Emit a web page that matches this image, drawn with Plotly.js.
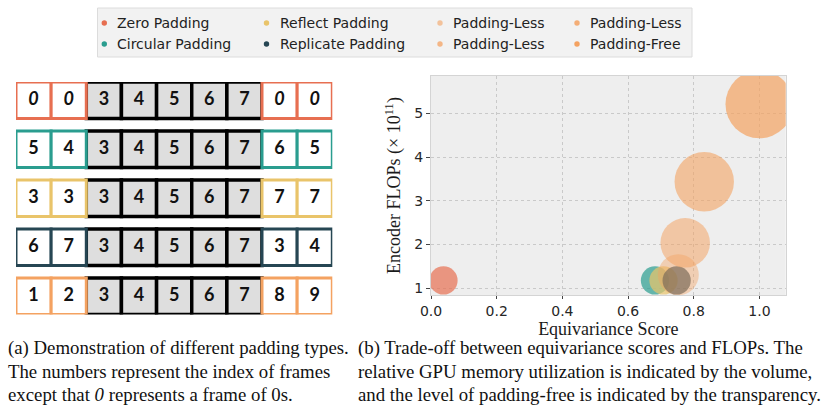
<!DOCTYPE html>
<html>
<head>
<meta charset="utf-8">
<script src="https://cdn.plot.ly/plotly-3.0.1.min.js"></script>
<style>html,body{margin:0;padding:0;background:#fff;}#chart{width:831px;height:412px;}</style>
</head>
<body>
<div id="chart"></div>
<script>
// ---------- data ----------
const methods = ['Zero Padding', 'Circular Padding', 'Reflect Padding', 'Replicate Padding',
                 'Padding-Less', 'Padding-Less', 'Padding-Less', 'Padding-Free'];
const equivarianceScore = [0.038, 0.682, 0.708, 0.748, 0.753, 0.774, 0.832, 1.0];
const encoderFlops = [1.18, 1.18, 1.18, 1.18, 1.31, 2.04, 3.437, 5.206];
const gpuMemory = [1, 1, 1, 1, 2.1, 3.06, 4.41, 5.76];
const methodColors = ['#E76F51', '#2A9D8F', '#E9C46A', '#264653', '#F4A261', '#F4A261', '#F4A261', '#F4A261'];
const methodOpacity = [1, 1, 1, 1, 0.6, 0.75, 0.85, 1];
const xTicks = [0, 0.2, 0.4, 0.6, 0.8, 1.0];
const yTicks = [1, 2, 3, 4, 5];

const framesZero = [0, 0, 3, 4, 5, 6, 7, 0, 0];
const framesCircular = [5, 4, 3, 4, 5, 6, 7, 6, 5];
const framesReflect = [3, 3, 3, 4, 5, 6, 7, 7, 7];
const framesReplicate = [6, 7, 3, 4, 5, 6, 7, 3, 4];
const framesFree = [1, 2, 3, 4, 5, 6, 7, 8, 9];
const diagramRows = [framesZero, framesCircular, framesReflect, framesReplicate, framesFree];
const rowColors = ['#E76F51', '#2A9D8F', '#E9C46A', '#264653', '#F4A261'];
const padCount = 2;

const captionA = ['(a) Demonstration of different padding types.',
                  'The numbers represent the index of frames',
                  'except that <i>0</i> represents a frame of 0s.'];
const captionB = ['(b) Trade-off between equivariance scores and FLOPs. The',
                  'relative GPU memory utilization is indicated by the volume,',
                  'and the level of padding-free is indicated by the transparency.'];

// ---------- helpers ----------
const W = 831, H = 412;
const px = x => x / W;
const py = y => 1 - y / H;
function rgba(hex, a) {
  const r = parseInt(hex.slice(1, 3), 16), g = parseInt(hex.slice(3, 5), 16), b = parseInt(hex.slice(5, 7), 16);
  return `rgba(${r},${g},${b},${a})`;
}
const markerColors = methodColors.map((c, i) => rgba(c, methodOpacity[i]));

// ---------- traces ----------
const traces = [];
traces.push({
  type: 'scatter', mode: 'markers', xaxis: 'x', yaxis: 'y',
  x: equivarianceScore, y: encoderFlops, text: methods,
  marker: { size: gpuMemory, sizemode: 'area', sizeref: 1 / 400, color: markerColors, line: { width: 0 } },
  hoverinfo: 'text+x+y', showlegend: false
});

// diagram labels
const cellH = 0.745;
const lx = [], ly = [], lt = [], zx = [], zy = [], zt = [];
diagramRows.forEach((row, r) => {
  row.forEach((v, c) => {
    if (v === 0) { zx.push(c + 0.5); zy.push(r + cellH / 2); zt.push(String(v)); }
    else { lx.push(c + 0.5); ly.push(r + cellH / 2); lt.push(String(v)); }
  });
});
traces.push({
  type: 'scatter', mode: 'text', xaxis: 'x2', yaxis: 'y2', x: lx, y: ly, text: lt,
  textposition: 'middle center', cliponaxis: false,
  textfont: { family: 'Lato', size: 18, weight: 'bold', color: '#111' }, hoverinfo: 'skip', showlegend: false
});
traces.push({
  type: 'scatter', mode: 'text', xaxis: 'x2', yaxis: 'y2', x: zx, y: zy, text: zt,
  textposition: 'middle center', cliponaxis: false,
  textfont: { family: 'Lato', size: 18, weight: 'bold', style: 'italic', color: '#111' }, hoverinfo: 'skip', showlegend: false
});

// ---------- shapes ----------
const shapes = [];
// scatter background
shapes.push({ type: 'rect', xref: 'x domain', yref: 'y domain', x0: 0, x1: 1, y0: 0, y1: 1,
  fillcolor: '#eeeeee', line: { width: 0 }, layer: 'below' });

// diagram cells: center first, then padding cells
diagramRows.forEach((row, r) => {
  row.forEach((v, c) => {
    const isPad = c < padCount || c >= row.length - padCount;
    if (!isPad) shapes.push({ type: 'rect', xref: 'x2', yref: 'y2', x0: c, x1: c + 1, y0: r, y1: r + cellH,
      fillcolor: '#dedede', line: { color: '#000', width: 3.5 }, layer: 'below' });
  });
  row.forEach((v, c) => {
    const isPad = c < padCount || c >= row.length - padCount;
    if (isPad) shapes.push({ type: 'rect', xref: 'x2', yref: 'y2', x0: c, x1: c + 1, y0: r, y1: r + cellH,
      fillcolor: '#ffffff', line: { color: rowColors[r], width: 3 }, layer: 'below' });
  });
});

// legend box
const legCols = [104.3, 266.5, 440, 577];
const legRows = [22.5, 43.5];
shapes.push({ type: 'rect', xref: 'paper', yref: 'paper', x0: px(97.5), x1: px(692), y0: py(57), y1: py(8),
  fillcolor: '#f2f2f2', line: { color: '#dcdcdc', width: 1 }, layer: 'above' });
const annotations = [];
methods.forEach((m, i) => {
  const cx = legCols[Math.floor(i / 2)], cy = legRows[i % 2];
  shapes.push({ type: 'circle', xref: 'paper', yref: 'paper', xsizemode: 'pixel', ysizemode: 'pixel',
    xanchor: px(cx), yanchor: py(cy + 0.5), x0: -2.7, x1: 2.7, y0: -2.7, y1: 2.7,
    fillcolor: markerColors[i], line: { width: 0 }, layer: 'above' });
  annotations.push({ xref: 'paper', yref: 'paper', x: px(cx + 11), y: py(cy), xanchor: 'left', yanchor: 'middle',
    text: m, showarrow: false, font: { family: 'DejaVu Sans', size: 14, color: '#222' } });
});

// captions
const capY = [348, 371, 394];
captionA.forEach((t, i) => annotations.push({ xref: 'paper', yref: 'paper', x: px(6), y: py(capY[i]),
  xanchor: 'left', yanchor: 'middle', text: t, showarrow: false,
  font: { family: 'Liberation Serif', size: 18.8, color: '#111' } }));
captionB.forEach((t, i) => annotations.push({ xref: 'paper', yref: 'paper', x: px(356), y: py(capY[i]),
  xanchor: 'left', yanchor: 'middle', text: t, showarrow: false,
  font: { family: 'Liberation Serif', size: 18.8, color: '#111' } }));

// ---------- layout ----------
const tickFont = { family: 'DejaVu Sans', size: 14, color: '#262626' };
const layout = {
  width: W, height: H,
  margin: { l: 0, r: 0, t: 0, b: 0, pad: 0 },
  paper_bgcolor: '#ffffff', plot_bgcolor: 'rgba(0,0,0,0)',
  showlegend: false,
  xaxis: {
    domain: [px(431), px(785.7)], range: [0, 1.08], anchor: 'y',
    tickvals: xTicks, tickformat: '.1f', ticks: 'outside', ticklen: 3, tickcolor: '#444',
    tickfont: tickFont, showgrid: true, gridcolor: '#c9c9c9', griddash: 'dot', gridwidth: 1,
    zeroline: false, showline: true, mirror: true, linecolor: '#d4d4d4', linewidth: 1,
    automargin: false,
    title: { text: 'Equivariance Score', font: { family: 'Liberation Serif', size: 18, color: '#1a1a1a' }, standoff: 0 }
  },
  yaxis: {
    domain: [py(295), py(76)], range: [0.847, 5.853], anchor: 'x',
    tickvals: yTicks, ticks: 'outside', ticklen: 4, tickcolor: '#444',
    tickfont: tickFont, showgrid: true, gridcolor: '#c9c9c9', griddash: 'dot', gridwidth: 1,
    zeroline: false, showline: true, mirror: true, linecolor: '#d4d4d4', linewidth: 1,
    automargin: false,
    title: { text: 'Encoder FLOPs (× 10<sup>11</sup>)', font: { family: 'Liberation Serif', size: 18, color: '#1a1a1a' }, standoff: 8 }
  },
  xaxis2: { domain: [px(16), px(332.3)], range: [0, 9], visible: false, anchor: 'y2', fixedrange: true },
  yaxis2: { domain: [py(314.5), py(82)], range: [4.745, 0], visible: false, anchor: 'x2', fixedrange: true },
  shapes: shapes,
  annotations: annotations
};

Plotly.newPlot('chart', traces, layout, { displayModeBar: false, staticPlot: true });
</script>
</body>
</html>
